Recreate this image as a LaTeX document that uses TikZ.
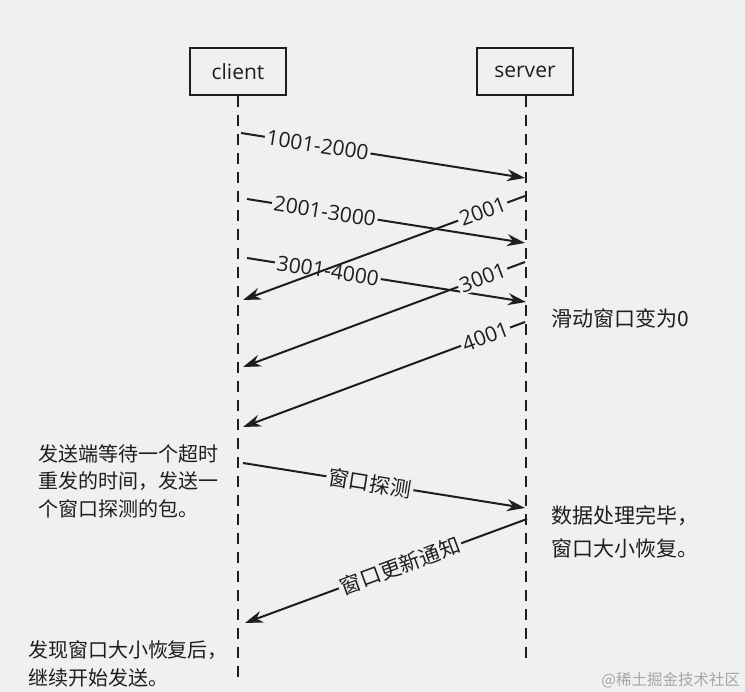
\documentclass[tikz,border=0pt]{standalone}
\usepackage{fontspec}
\setmainfont{Open Sans}
\newfontfamily\cjk{Noto Sans CJK SC}
\usetikzlibrary{arrows.meta}
\definecolor{bg}{HTML}{F0F0F0}
\definecolor{ink}{HTML}{1E1E1E}

\begin{document}
\begin{tikzpicture}[x=1pt,y=-1pt,line width=2pt,draw=ink,text=ink,
  box/.style={draw,minimum width=96pt,minimum height=47pt,font=\fontsize{21}{24}\selectfont},
  life/.style={dash pattern=on 11pt off 8pt},
  msg/.style={-{Stealth[length=18pt,width=12pt]}},
  lbl/.style={fill=bg,sloped,inner sep=2pt,font=\fontsize{21}{24}\selectfont},
  lblcn/.style={lbl,font=\cjk\fontsize{21}{24}\selectfont},
  note/.style={align=left,anchor=west,inner sep=0pt}]
\fill[bg] (0,0) rectangle (745,692);
\useasboundingbox (0,0) rectangle (745,692);

\node[box] (client) at (238,71.5) {client};
\node[box] (server) at (525,71.5) {server};
\coordinate (cend) at (238,677);
\coordinate (send) at (526,663);
\draw[life] (client.south) -- (cend);
\draw[life] (server.south -| send) -- (send);

\coordinate (c1) at (241,133); \coordinate (s1) at (525,178);
\coordinate (c2) at (247,199); \coordinate (s2) at (525,243);
\coordinate (c3) at (247,258); \coordinate (s3) at (526,302);
\coordinate (s4) at (525,196); \coordinate (c4) at (243,300);
\coordinate (s5) at (525,262); \coordinate (c5) at (243,367);
\coordinate (s6) at (525,322); \coordinate (c6) at (243,427);
\coordinate (c7) at (243,463); \coordinate (s7) at (525,508);
\coordinate (s8) at (527,519); \coordinate (c8) at (245,623);

\draw[msg] (c1) -- node[lbl,pos=.27] {1001-2000} (s1);
\draw[msg] (c2) -- node[lbl,pos=.28] {2001-3000} (s2);
\draw[msg] (c3) -- node[lbl,pos=.29] {3001-4000} (s3);
\draw[msg] (s4) -- node[lbl,pos=.15] {2001} (c4);
\draw[msg] (s5) -- node[lbl,pos=.15] {3001} (c5);
\draw[msg] (s6) -- node[lbl,pos=.14] {4001} (c6);
\draw[msg] (c7) -- node[lblcn,pos=.45] {窗口探测} (s7);
\draw[msg] (s8) -- node[lblcn,pos=.45] {窗口更新通知} (c8);

\node[note,font=\cjk\fontsize{21}{33}\selectfont] (zero) at (550,318) {滑动窗口变为0};
\node[note,font=\cjk\fontsize{20}{27.5}\selectfont] (wait) at (37,481) {发送端等待一个超时\\重发的时间，发送一\\个窗口探测的包。};
\node[note,font=\cjk\fontsize{21}{33}\selectfont] (done) at (550,531.5) {数据处理完毕，\\窗口大小恢复。};
\node[note,font=\cjk\fontsize{20}{28}\selectfont] (resume) at (27,664) {发现窗口大小恢复后，\\继续开始发送。};
\node[anchor=east,inner sep=0pt,text=black!35,font=\cjk\fontsize{15.5}{18}\selectfont] (mark) at (741,680) {@稀土掘金技术社区};
\end{tikzpicture}
\end{document}
